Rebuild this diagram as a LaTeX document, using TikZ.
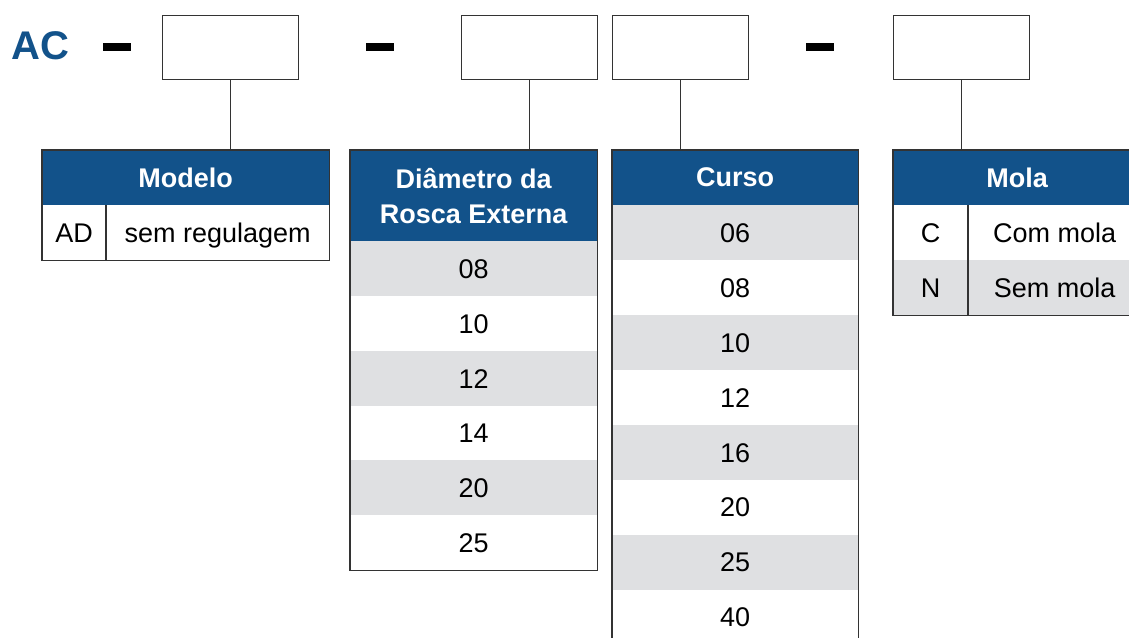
\documentclass[tikz,border=0pt]{standalone}
\usepackage{fontspec}
\setmainfont{Liberation Sans}
\definecolor{azul}{HTML}{12528A}
\definecolor{cinza}{HTML}{DFE0E2}
\definecolor{linha}{HTML}{333333}
\tikzset{
  campo/.style={draw=linha, line width=1.2pt, anchor=north west, minimum width=136pt, minimum height=64pt, inner sep=0},
  traco/.style={fill=black, minimum width=28pt, minimum height=8pt, inner sep=0},
  cabec/.style={fill=azul, text=white, anchor=north west, inner sep=0, align=center,
    font=\bfseries\fontsize{27}{35}\selectfont},
  celula/.style={anchor=north west, inner sep=0, minimum height=55pt, text height=19.5pt, text depth=0pt,
    font=\fontsize{27}{30}\selectfont},
  borda/.style={draw=linha, line width=1.2pt},
  liga/.style={draw=linha, line width=1.2pt}
}
\begin{document}
\begin{tikzpicture}[x=1pt,y=-1pt]
    \useasboundingbox (0,0) rectangle (1129,637);
    %% Codigo
    \node[text=azul, anchor=west, inner sep=0, font=\bfseries\fontsize{40}{42}\selectfont] (ac) at (11,46) {AC};
    \node[traco] (t1) at (117,47) {};
    \node[campo] (c1) at (162,15) {};
    \node[traco] (t2) at (380,47) {};
    \node[campo] (c2) at (461,15) {};
    \node[campo] (c3) at (612,15) {};
    \node[traco] (t3) at (820,47) {};
    \node[campo] (c4) at (893,15) {};
    %% Modelo
    \node[cabec, minimum width=287pt, minimum height=55pt] (modelo) at (42,150) {Modelo};
    \node[celula, minimum width=64pt] (modelo-a) at (42,205) {AD};
    \node[celula, minimum width=223pt] (modelo-b) at (106,205) {sem regulagem};
    \draw[borda] (modelo.north west) rectangle (modelo-b.south east);
    \draw[borda] (modelo-b.north west) -- (modelo-b.south west);
    %% Diametro da rosca
    \node[cabec, minimum width=247pt, minimum height=91pt] (diam) at (350,150) {Diâmetro da\\Rosca Externa};
    \foreach \v/\f [count=\i from 0] in {08/cinza,10/white,12/cinza,14/white,20/cinza,25/white}
        \node[celula, fill=\f, minimum width=247pt] (diam-\i) at (350,241+54.8*\i) {\v};
    \draw[borda] (diam.north west) rectangle (diam-5.south east);
    %% Curso
    \node[cabec, minimum width=246pt, minimum height=55pt] (curso) at (612,150) {Curso};
    \foreach \v/\f [count=\i from 0] in {06/cinza,08/white,10/cinza,12/white,16/cinza,20/white,25/cinza,40/white}
        \node[celula, fill=\f, minimum width=246pt] (curso-\i) at (612,205+54.9*\i) {\v};
    \draw[borda] (curso.north west) rectangle (curso-7.south east);
    %% Mola
    \node[cabec, minimum width=248pt, minimum height=55pt] (mola) at (893,150) {Mola};
    \foreach \k/\t/\f [count=\i from 0] in {C/Com mola/white,N/Sem mola/cinza} {
        \node[celula, fill=\f, minimum width=75pt] (mola-a\i) at (893,205+55*\i) {\k};
        \node[celula, fill=\f, minimum width=173pt] (mola-b\i) at (968,205+55*\i) {\t};
    }
    \draw[borda] (mola.north west) rectangle (mola-b1.south east);
    \draw[borda] (mola-b0.north west) -- (mola-b1.south west);
    %% Ligacoes
    \draw[liga] (c1.south) -- (c1.south |- modelo.north);
    \draw[liga] (c2.south) -- (c2.south |- diam.north);
    \draw[liga] (c3.south) -- (c3.south |- curso.north);
    \draw[liga] (c4.south) -- (c4.south |- mola.north);
\end{tikzpicture}
\end{document}
